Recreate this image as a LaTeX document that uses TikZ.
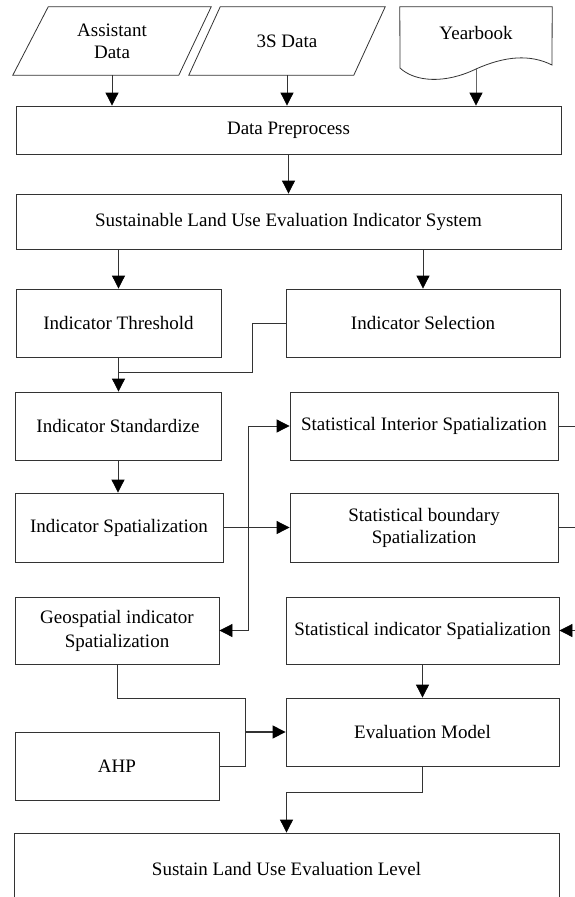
\documentclass[tikz,border=0pt]{standalone}
\usepackage{fontspec}
\setmainfont{Liberation Serif}
\usetikzlibrary{arrows.meta}
\begin{document}
\begin{tikzpicture}[x=1pt,y=-1pt,
  txt/.style={inner sep=0pt, align=center, font=\fontsize{19}{22}\selectfont},
  box/.style={txt, draw=black!80, line width=0.8pt, rectangle},
  ln/.style={draw=black!80, line width=0.8pt},
  arr/.style={ln, -{Triangle[width=13pt,length=13pt,black]}}]
\useasboundingbox (0,0) rectangle (575,897);
\clip (0,0) rectangle (575,897);
\fill[white] (0,0) rectangle (575,897);

% inputs
\node[txt, minimum width=198pt, minimum height=68pt] (AD) at (112,41) {Assistant\\Data};
\draw[ln] (AD.south west) -- ++(166,0) -- (AD.north east) -- ++(-163,0) -- cycle;
\node[txt, minimum width=196pt, minimum height=68pt] (TD) at (287,41) {3S Data};
\draw[ln] (TD.south west) -- ++(165,0) -- (TD.north east) -- ++(-165,0) -- cycle;
\node[txt, minimum width=152pt, minimum height=52pt] (YB) at (476,33) {Yearbook};
\draw[ln] (YB.north west) -- (400,68) .. controls (415,82) and (445,84) .. (476,69)
  .. controls (505,56) and (530,54) .. (552,65) -- (YB.north east) -- cycle;
\coordinate (ybw) at (476,69);

% boxes
\node[box, minimum width=545pt, minimum height=48pt] (DP) at (288.5,130) {Data Preprocess};
\node[box, minimum width=545pt, minimum height=55pt] (SYS) at (288.5,221.5) {Sustainable Land Use Evaluation Indicator System};
\node[box, minimum width=205pt, minimum height=68pt] (TH) at (118.5,323) {Indicator Threshold};
\node[box, minimum width=274pt, minimum height=68pt] (SEL) at (423,323) {Indicator Selection};
\node[box, minimum width=206pt, minimum height=68pt] (STD) at (118,426) {Indicator Standardize};
\node[box, minimum width=208pt, minimum height=69pt] (SPA) at (119,527.5) {Indicator Spatialization};
\node[box, minimum width=268pt, minimum height=68pt] (SI) at (424,426) {Statistical Interior Spatialization};
\node[box, minimum width=268pt, minimum height=69pt] (SB) at (424,527.5) {Statistical boundary\\Spatialization};
\node[box, minimum width=204pt, minimum height=67pt, font=\fontsize{19}{24}\selectfont] (GEO) at (117,630.5) {Geospatial indicator\\Spatialization};
\node[box, minimum width=273pt, minimum height=67pt] (SIND) at (422.5,630.5) {Statistical indicator Spatialization};
\node[box, minimum width=273pt, minimum height=68pt] (EM) at (422.5,732) {Evaluation Model};
\node[box, minimum width=204pt, minimum height=68pt] (AHP) at (117,766) {AHP};
\node[box, minimum width=545pt, minimum height=72pt] (LVL) at (286.5,869) {Sustain Land Use Evaluation Level};

% input arrows
\draw[arr] (AD.south) -- (AD.south |- DP.north);
\draw[arr] (TD.south) -- (TD.south |- DP.north);
\draw[arr, draw=black!60] (ybw) -- (ybw |- DP.north);
\draw[arr] (DP.south) -- (DP.south |- SYS.north);
\draw[arr] (SYS.south -| TH.north) -- (TH.north);
\draw[arr] (SYS.south -| SEL.north) -- (SEL.north);

% selection joins threshold
\coordinate (j1) at (252,372);
\draw[ln] (SEL.west) -| (j1) -- (j1 -| TH.south);
\draw[arr] (TH.south) -- (TH.south |- STD.north);
\draw[arr] (STD.south) -- (STD.south |- SPA.north);

% spatialization bus
\coordinate (bus) at (248,527.5);
\draw[ln, line width=1.6pt] (SPA.east) -- (bus);
\draw[arr] (bus) -- (SB.west);
\draw[arr] (bus) |- (SI.west);
\draw[arr] (bus) |- (GEO.east);

% right-hand stubs
\coordinate (r1) at (580,426);
\coordinate (r2) at (580,527.5);
\coordinate (r3) at (580,630.5);
\draw[ln] (SI.east) -- (r1);
\draw[ln] (SB.east) -- (r2);
\draw[arr] (r3) -- (SIND.east);

\draw[arr] (SIND.south) -- (EM.north);

% geospatial + AHP to model
\coordinate (g1) at (117,698);
\coordinate (m) at (245,732);
\draw[ln] (GEO.south) -- (g1) -| (m);
\draw[ln] (AHP.east) -| (m);
\draw[arr, line width=1.2pt] (m) -- (EM.west);

% model to level
\coordinate (e1) at (0,792);
\draw[arr] (EM.south) -- (EM.south |- e1) -| (LVL.north);
\end{tikzpicture}
\end{document}
